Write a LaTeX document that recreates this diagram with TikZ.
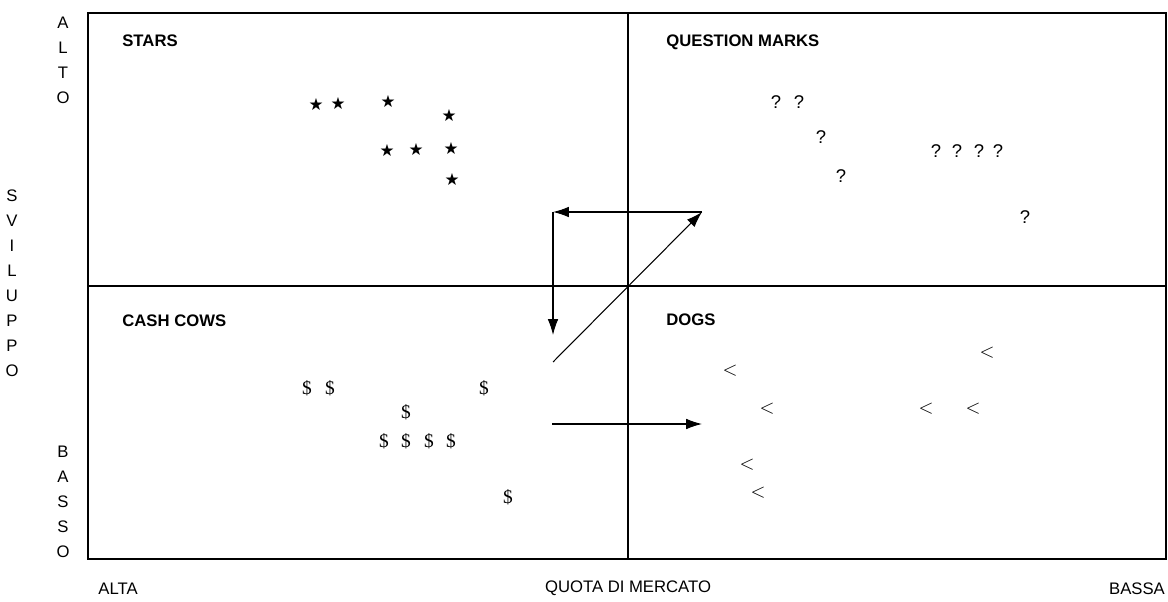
\documentclass[tikz,border=0pt]{standalone}
\usepackage{fontspec}
\setmainfont{Liberation Sans}
\newfontfamily\symfont{Liberation Serif}
\newfontfamily\starfont{DejaVu Sans}
\usetikzlibrary{arrows.meta}

\begin{document}
\begin{tikzpicture}[x=0.02cm, y=-0.02cm,
    lab/.style={font=\fontsize{9.5}{14.2}\selectfont, inner sep=0pt, align=center},
    titolo/.style={font=\fontsize{9.5}{11.9}\selectfont\bfseries, anchor=west, inner sep=0pt},
    stella/.style={font=\starfont\fontsize{9.5}{12}\selectfont, inner sep=0pt},
    simbolo/.style={font=\fontsize{10.5}{12}\selectfont, inner sep=0pt},
    dollaro/.style={font=\symfont\fontsize{11}{12}\selectfont, inner sep=0pt},
    freccia/.style={line width=0.6pt, -{Latex[length=9pt,width=6pt]}}]
    \useasboundingbox (0,0) rectangle (1168,601);

    % riquadro e quadranti
    \draw[line width=0.8pt] (88,13) rectangle (1166,559);
    \draw[line width=0.6pt] (628,13) -- (628,559);
    \draw[line width=0.6pt] (88,286) -- (1166,286);

    % assi
    \node[lab] (alto) at (63,60) {A\\L\\T\\O};
    \node[lab] (sviluppo) at (12,283) {S\\V\\I\\L\\U\\P\\P\\O};
    \node[lab] (basso) at (63,502) {B\\A\\S\\S\\O};
    \node[lab] (alta) at (118,589) {ALTA};
    \node[lab] (quota) at (628,588) {QUOTA DI MERCATO};
    \node[lab] (bassa) at (1137,589) {BASSA};

    % titoli dei quadranti
    \node[titolo] (stars) at (122,41) {STARS};
    \node[titolo] (qmarks) at (666,42) {QUESTION MARKS};
    \node[titolo] (cows) at (122,321) {CASH COWS};
    \node[titolo] (dogs) at (666,320) {DOGS};

    % stars
    \foreach \x/\y [count=\i] in {316/105, 338/104, 388/102, 449/116,
        387/151, 416/150, 451/149, 452/180}
        \node[stella] (st\i) at (\x,\y) {★};

    % question marks
    \foreach \x/\y [count=\i] in {776/102, 799/102, 821/137, 841/176,
        936/151, 957/151, 979/151, 998/151, 1025/217}
        \node[simbolo] (qm\i) at (\x,\y) {?};

    % cash cows
    \foreach \x/\y [count=\i] in {307/388, 330/388, 484/388, 406/412,
        384/441, 406/441, 429/441, 451/441, 508/497}
        \node[dollaro] (cc\i) at (\x,\y) {\$};

    % dogs
    \foreach \x/\y [count=\i] in {987/353, 730/371, 767/409, 926/409,
        973/409, 747/465, 758/493}
        \node[simbolo] (dg\i) at (\x,\y) {$<$};

    % frecce
    \coordinate (angolo) at (553,212);
    \coordinate (punta) at (702,212);
    \coordinate (giu) at (553,335);
    \coordinate (base) at (553,362);
    \coordinate (inizio) at (552,424);
    \coordinate (fine) at (702,424);
    \draw[freccia] (punta) -- (angolo);
    \draw[freccia] (angolo) -- (giu);
    \draw[freccia] (base) -- (punta);
    \draw[freccia] (inizio) -- (fine);
\end{tikzpicture}
\end{document}
